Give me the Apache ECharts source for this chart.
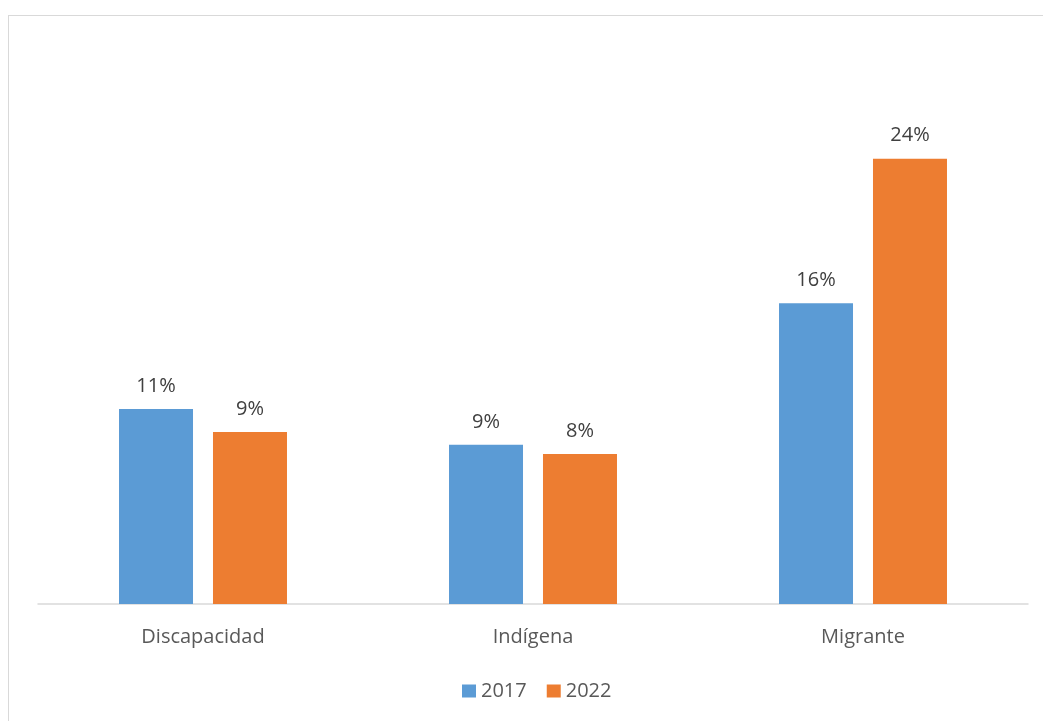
<!DOCTYPE html>
<html>
<head>
<meta charset="utf-8">
<script src="https://cdn.jsdelivr.net/npm/echarts@6/dist/echarts.min.js"></script>
<style>
html,body{margin:0;padding:0;background:#fff;}
#chart{width:1043px;height:721px;position:relative;}
#frame{position:absolute;left:8px;top:15px;width:1100px;height:800px;border-left:1.5px solid #d9d9d9;border-top:1.5px solid #d9d9d9;pointer-events:none;}
</style>
</head>
<body>
<div id="chart"></div>
<div id="frame"></div>
<script>
const categories = ['Discapacidad', 'Indígena', 'Migrante'];
const seriesNames = ['2017', '2022'];
const values2017 = [10.6, 8.65, 16.35];
const values2022 = [9.35, 8.15, 24.2];
const colors = ['#5B9BD5', '#ED7D31'];

const chart = echarts.init(document.getElementById('chart'));
const font = '"Open Sans", sans-serif';
function mkSeries(name, data, color) {
  return {
    name: name,
    type: 'bar',
    data: data,
    barWidth: 74,
    barGap: '27%',
    itemStyle: { color: color },
    label: {
      show: true,
      position: 'top',
      distance: 13,
      formatter: p => Math.round(p.value) + '%',
      color: '#404040',
      fontSize: 20,
      fontFamily: font
    }
  };
}
chart.setOption({
  animation: false,
  backgroundColor: '#fff',
  grid: { left: 38, right: 15, top: 52, bottom: 117, containLabel: false },
  xAxis: {
    type: 'category',
    data: categories,
    axisLine: { lineStyle: { color: '#d9d9d9', width: 1.5 } },
    axisTick: { show: false },
    axisLabel: { color: '#595959', fontSize: 20, fontFamily: font, margin: 23 }
  },
  yAxis: {
    type: 'value',
    min: 0, max: 30, interval: 5,
    show: false,
    splitLine: { show: false }
  },
  legend: {
    data: seriesNames,
    top: 676,
    left: 457,
    itemWidth: 14,
    itemHeight: 13,
    itemGap: 20,
    icon: 'rect',
    textStyle: { color: '#595959', fontSize: 20, fontFamily: font }
  },
  series: [
    mkSeries(seriesNames[0], values2017, colors[0]),
    mkSeries(seriesNames[1], values2022, colors[1])
  ]
});
</script>
</body>
</html>
